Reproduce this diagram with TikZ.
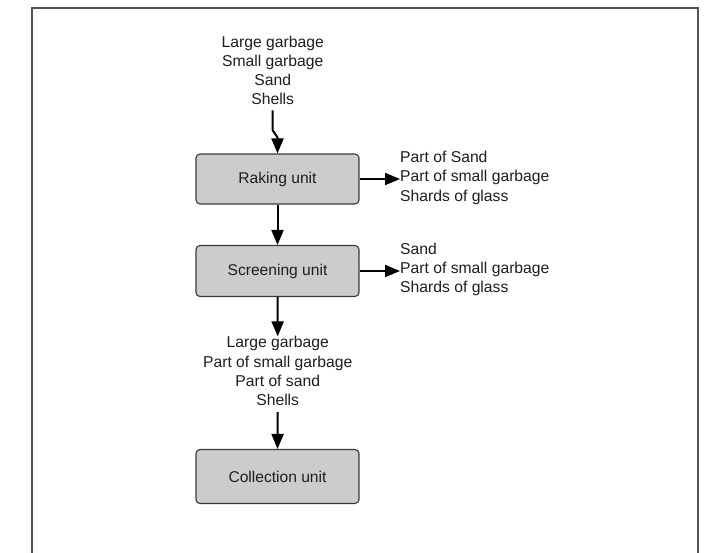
\documentclass[tikz,border=0pt]{standalone}
\usepackage{fontspec}
\setmainfont{Liberation Sans}
\usetikzlibrary{arrows.meta}
\definecolor{boxfill}{HTML}{CCCCCC}
\definecolor{boxline}{HTML}{3A3A3A}
\definecolor{txt}{HTML}{1E1E1E}
\definecolor{frame}{HTML}{555555}
\begin{document}
\begin{tikzpicture}[x=1pt,y=-1pt,
  unitbox/.style={draw=boxline,fill=boxfill,rounded corners=4pt,line width=1.1pt,
    minimum width=163pt,minimum height=50pt,inner sep=0pt,text=txt,
    font=\fontsize{15.6}{19.3}\selectfont},
  lbl/.style={inner sep=0pt,text=txt,font=\fontsize{15.7}{19.3}\selectfont},
  arr/.style={line width=2pt,-{Triangle[length=15pt,width=12pt]}}]
\useasboundingbox (0,0) rectangle (709,552);
\draw[frame,line width=1.5pt] (32,553) -- (32,8) -- (698,8) -- (698,553);
% units
\node[unitbox] (rake) at (277.5,179) {Raking unit};
\node[unitbox,minimum height=51pt] (screen) at (277.5,271) {Screening unit};
\node[unitbox,minimum height=54pt] (collect) at (277.5,476.5) {Collection unit};
% labels
\node[lbl,align=center] (in) at (272.7,70.4) {Large garbage\\Small garbage\\Sand\\Shells};
\node[lbl,align=left,anchor=west] (r1) at (400,177.7) {Part of Sand\\Part of small garbage\\Shards of glass};
\node[lbl,align=left,anchor=west] (r2) at (400,269.3) {Sand\\Part of small garbage\\Shards of glass};
\node[lbl,align=center] (out) at (277.7,371.3) {Large garbage\\Part of small garbage\\Part of sand\\Shells};
% connectors
\draw[arr] ([yshift=-5pt]in.south) -- ++(0,20) -- ([yshift=16pt]rake.north) -- (rake.north);
\draw[arr] (rake.south) -- (screen.north);
\draw[arr] (rake.east) -- (rake.east -| r1.west);
\draw[arr] (screen.east) -- (screen.east -| r2.west);
\draw[arr] (screen.south) -- (out.north);
\draw[arr] ([yshift=-6pt]out.south) -- (collect.north);
\end{tikzpicture}
\end{document}
